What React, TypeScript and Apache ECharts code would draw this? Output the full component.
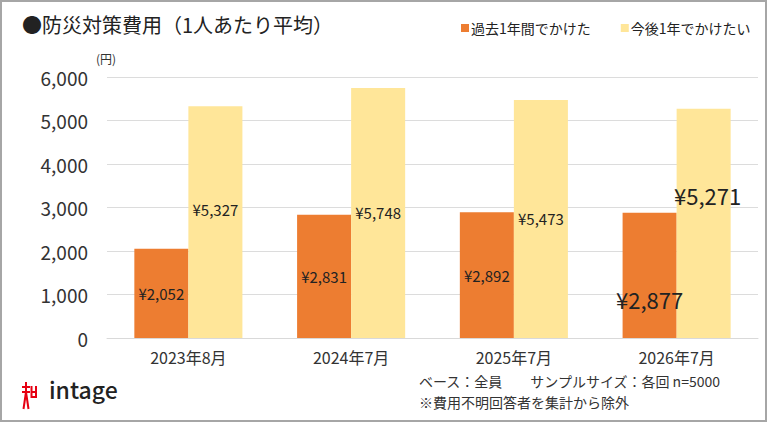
import React, { useEffect, useRef } from 'react';
import * as echarts from 'echarts';

const categories = ['2023年8月', '2024年7月', '2025年7月', '2026年7月'];
const pastYear = [2052, 2831, 2892, 2877];
const nextYear = [5327, 5748, 5473, 5271];
const seriesNames = ['過去1年間でかけた', '今後1年でかけたい'];
const FONT = '"Noto Sans CJK JP", "Noto Sans", sans-serif';

const yen = (v: number) => '¥' + v.toLocaleString('en-US');

const App: React.FC = () => {
  const ref = useRef<HTMLDivElement>(null);

  useEffect(() => {
    if (!ref.current) return;
    const chart = echarts.init(ref.current, null, { renderer: 'svg' });

    // last category gets bigger, shifted labels as in the original
    const pastData = pastYear.map((v, i) =>
      i === 3
        ? { value: v, label: { fontSize: 22, offset: [0, 24] } }
        : { value: v }
    );
    const nextData = nextYear.map((v, i) => {
      if (i === 3) return { value: v, label: { fontSize: 22, offset: [4, -28] } };
      if (i === 0) return { value: v, label: { offset: [0, -13] } };
      return { value: v };
    });

    const red = '#e60012';
    chart.setOption({
      animation: false,
      textStyle: { fontFamily: FONT },
      title: {
        text: '●防災対策費用（1人あたり平均）',
        left: 17,
        top: 9,
        textStyle: { fontSize: 20, fontWeight: 'normal', color: '#222', fontFamily: FONT },
      },
      legend: {
        data: seriesNames,
        left: 456,
        top: 16,
        itemWidth: 8,
        itemHeight: 8,
        itemGap: 30,
        icon: 'rect',
        textStyle: { fontSize: 14, color: '#222', padding: [0, 0, 0, -3], fontFamily: FONT },
      },
      grid: { left: 107, right: 12, top: 77, bottom: 85 },
      xAxis: {
        type: 'category',
        data: categories,
        axisLine: { lineStyle: { color: '#d9d9d9' } },
        axisTick: { show: false },
        axisLabel: { fontSize: 16, color: '#333', margin: 11, fontFamily: FONT },
      },
      yAxis: {
        type: 'value',
        min: 0,
        max: 6000,
        interval: 1000,
        name: '(円)',
        nameLocation: 'end',
        nameGap: 13,
        nameTextStyle: { fontSize: 12, color: '#333', align: 'right', padding: [0, -9, 0, 0] },
        axisLabel: {
          fontSize: 19,
          color: '#333',
          margin: 19,
          fontFamily: FONT,
          formatter: (v: number) => v.toLocaleString('en-US'),
        },
        splitLine: { lineStyle: { color: '#dcdcdc' } },
      },
      series: [
        {
          name: seriesNames[0],
          type: 'bar',
          data: pastData,
          barGap: '0%',
          barCategoryGap: '33.6%',
          itemStyle: { color: '#ED7D31' },
          label: {
            show: true,
            position: 'inside',
            fontSize: 15,
            color: '#222',
            fontFamily: FONT,
            formatter: (p: any) => yen(p.value),
          },
        },
        {
          name: seriesNames[1],
          type: 'bar',
          data: nextData,
          barGap: '0%',
          barCategoryGap: '33.6%',
          itemStyle: { color: '#FFE699' },
          label: {
            show: true,
            position: 'inside',
            fontSize: 15,
            color: '#222',
            fontFamily: FONT,
            formatter: (p: any) => yen(p.value),
          },
        },
      ],
      graphic: [
        {
          type: 'rect',
          shape: { x: 1, y: 1, width: 765, height: 420 },
          style: { fill: 'none', stroke: '#a6a6a6', lineWidth: 2 },
          silent: true,
        },
        // logo mark (rough)
        {
          type: 'group',
          x: 22,
          y: 382,
          children: [
            { type: 'line', shape: { x1: 4, y1: 0, x2: 4, y2: 10 }, style: { stroke: red, lineWidth: 2 } },
            { type: 'line', shape: { x1: 0, y1: 5, x2: 8, y2: 5 }, style: { stroke: red, lineWidth: 2 } },
            { type: 'line', shape: { x1: 0, y1: 10, x2: 8, y2: 10 }, style: { stroke: red, lineWidth: 2 } },
            { type: 'polyline', shape: { points: [[4, 10], [1.5, 27]] }, style: { stroke: red, lineWidth: 2, fill: 'none' } },
            { type: 'polyline', shape: { points: [[4, 10], [6.5, 27]] }, style: { stroke: red, lineWidth: 2, fill: 'none' } },
            { type: 'polyline', shape: { points: [[9.5, 4], [9.5, 15], [14, 15], [14, 4]] }, style: { stroke: red, lineWidth: 2, fill: 'none' } },
            { type: 'line', shape: { x1: 9.5, y1: 10, x2: 14, y2: 10 }, style: { stroke: red, lineWidth: 2 } },
          ],
        },
        {
          type: 'text',
          left: 49,
          top: 377,
          style: { text: 'intage', fontSize: 23, fontWeight: 500, fill: '#222', fontFamily: FONT },
        },
        {
          type: 'text',
          left: 419,
          top: 374,
          style: {
            text: 'ベース：全員　　サンプルサイズ：各回 n=5000',
            fontSize: 14,
            fill: '#333',
            fontFamily: FONT,
          },
        },
        {
          type: 'text',
          left: 419,
          top: 395,
          style: {
            text: '※費用不明回答者を集計から除外',
            fontSize: 14,
            fill: '#333',
            fontFamily: FONT,
          },
        },
      ],
    });

    return () => chart.dispose();
  }, []);

  return (
    <div
      ref={ref}
      style={{ position: 'absolute', left: 0, top: 0, width: 770, height: 423, background: '#fff' }}
    />
  );
};

export default App;
